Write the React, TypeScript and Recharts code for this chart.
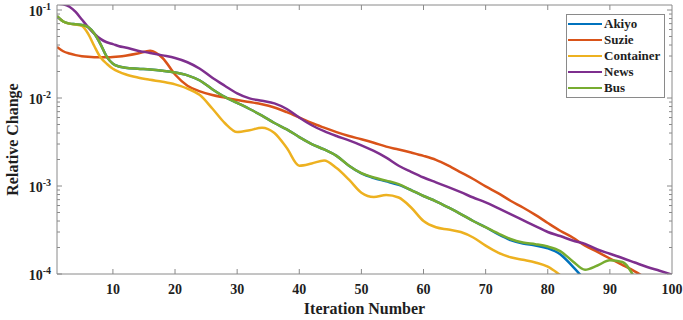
import React from 'react';
import { LineChart, Line, XAxis, YAxis, Legend, Label } from 'recharts';

const iterations = [1, 2, 3, 4, 5, 6, 7, 8, 9, 10, 11, 12, 14, 16, 18, 20, 22, 24, 26, 28, 30, 32, 34, 36, 38, 40, 42, 44, 46, 48, 50, 52, 54, 56, 58, 60, 62, 64, 66, 68, 70, 72, 74, 76, 78, 80, 82, 84, 86, 88, 90, 92, 94, 96, 98, 100];

const akiyo = [0.085, 0.074, 0.07, 0.0688, 0.0675, 0.064, 0.054, 0.041, 0.0295, 0.0245, 0.0228, 0.0221,
  0.0215, 0.0211, 0.0204, 0.0195, 0.0181, 0.0158, 0.0126, 0.0103, 0.0088, 0.0075, 0.0063, 0.0052, 0.0044, 0.0036, 0.003, 0.0026, 0.0022, 0.0017,
  0.00139, 0.00123, 0.00113, 0.00103, 0.0009, 0.00077, 0.00067, 0.00057, 0.00048, 0.0004, 0.00034, 0.000283, 0.000243, 0.000222, 0.000211, 0.000196,
  0.000168, 0.000122, 0.000085, null, null, null, null, null, null, null];

const suzie = [0.038, 0.034, 0.032, 0.0307, 0.0299, 0.0294, 0.0291, 0.029, 0.0291, 0.0293, 0.0297, 0.0303,
  0.032, 0.0345, 0.0285, 0.0185, 0.0138, 0.0119, 0.0108, 0.0101, 0.0095, 0.009, 0.0085, 0.0078, 0.0069, 0.006, 0.0052, 0.0046, 0.0041, 0.0037,
  0.0034, 0.0031, 0.0028, 0.0026, 0.0024, 0.0022, 0.00198, 0.0017, 0.00143, 0.0012, 0.00099, 0.00083, 0.00068, 0.00057, 0.00047, 0.00038,
  0.00031, 0.00026, 0.00021, 0.000178, 0.00015, 0.000127, 0.000107, 0.000088, null, null];

const container = [0.085, 0.074, 0.07, 0.0685, 0.066, 0.054, 0.039, 0.029, 0.0245, 0.0215, 0.0198, 0.0186,
  0.0171, 0.0161, 0.0153, 0.0143, 0.0128, 0.0108, 0.0076, 0.0052, 0.0041, 0.0043, 0.0046, 0.004, 0.0027, 0.0017, 0.0018, 0.00195, 0.0016, 0.00118,
  0.00084, 0.00075, 0.00079, 0.00074, 0.00057, 0.0004, 0.00034, 0.00032, 0.0003, 0.00026, 0.00021, 0.000175, 0.000155, 0.000145, 0.000135, 0.000121,
  0.000097, null, null, null, null, null, null, null, null, null];

const news = [0.118, 0.116, 0.109, 0.095, 0.078, 0.064, 0.054, 0.047, 0.043, 0.041, 0.0388, 0.0375,
  0.0345, 0.0325, 0.0305, 0.0285, 0.0255, 0.0215, 0.017, 0.0138, 0.0113, 0.0099, 0.0093, 0.0087, 0.0075, 0.006, 0.0049, 0.0042, 0.0037, 0.0033,
  0.0029, 0.0025, 0.0021, 0.0017, 0.00145, 0.00125, 0.0011, 0.00097, 0.00085, 0.00074, 0.00065, 0.00056, 0.00048, 0.00041, 0.00035, 0.0003,
  0.00027, 0.00024, 0.00022, 0.00019, 0.00017, 0.000152, 0.000135, 0.00012, 0.000109, 0.0000985];

const bus = [0.085, 0.074, 0.07, 0.0688, 0.0675, 0.064, 0.054, 0.041, 0.0295, 0.0245, 0.0228, 0.0221,
  0.0215, 0.0211, 0.0204, 0.0195, 0.0181, 0.0158, 0.0126, 0.0103, 0.0088, 0.0075, 0.0063, 0.0052, 0.0044, 0.0036, 0.003, 0.0026, 0.0022, 0.0017,
  0.0014, 0.00125, 0.00115, 0.00105, 0.0009, 0.00077, 0.00067, 0.00057, 0.00048, 0.0004, 0.00034, 0.00029, 0.00025, 0.000228, 0.000218, 0.000205,
  0.000182, 0.00014, 0.000112, 0.000125, 0.000143, 0.000137, 0.00009, null, null, null];

const seriesKeys = ['akiyo', 'suzie', 'container', 'news', 'bus'];
const seriesNames = ['Akiyo', 'Suzie', 'Container', 'News', 'Bus'];
const seriesColors = ['#0072BD', '#D95319', '#EDB120', '#7E2F8E', '#77AC30'];

const xTicks = [10, 20, 30, 40, 50, 60, 70, 80, 90, 100];
const xTopTicks = [10, 20, 30, 40, 50, 60, 70, 80, 90];
const yMajorTicks = [1e-4, 1e-3, 1e-2, 1e-1];
const yDomain = [1e-4, 0.114];
const minorMultipliers = [2, 3, 4, 5, 6, 7, 8, 9];
const yMinorTicks = yMajorTicks.flatMap((d) => minorMultipliers.map((m) => d * m)).filter((v) => v < yDomain[1]);
const yAllTicks = [...yMajorTicks, ...yMinorTicks].sort((a, b) => a - b);

const rows = iterations.map((it, i) => ({
  it,
  akiyo: akiyo[i],
  suzie: suzie[i],
  container: container[i],
  news: news[i],
  bus: bus[i],
}));

const AXIS = '#8a8a8a';
const TEXT = '#1e1e1e';
const FONT = '"Liberation Serif", "Times New Roman", serif';

const isMajor = (v: number) => yMajorTicks.some((m) => Math.abs(v - m) / m < 1e-6);

const LeftTick = (props: any) => {
  const { x, y, payload } = props;
  const v = payload.value as number;
  const ax = x + 6;
  const major = isMajor(v);
  const exp = Math.round(Math.log10(v));
  return (
    <g>
      <line x1={ax} x2={ax + (major ? 5 : 3)} y1={y} y2={y} stroke={AXIS} strokeWidth={1} />
      {major && (
        <text x={x} y={y + 6} textAnchor="end" fontFamily={FONT} fontWeight="bold" fontSize={14} fill={TEXT}>
          <tspan>10</tspan>
          <tspan dy={-6} fontSize={10}>{String(exp)}</tspan>
        </text>
      )}
    </g>
  );
};

const RightTick = (props: any) => {
  const { x, y, payload } = props;
  const v = payload.value as number;
  const major = isMajor(v);
  return <line x1={x} x2={x - (major ? 5 : 3)} y1={y} y2={y} stroke={AXIS} strokeWidth={1} />;
};

const BottomTick = (props: any) => {
  const { x, y, payload } = props;
  return (
    <g>
      {payload.value < 100 && <line x1={x} x2={x} y1={y} y2={y - 5} stroke={AXIS} strokeWidth={1} />}
      <text x={x} y={y + 20} textAnchor="middle" fontFamily={FONT} fontWeight="bold" fontSize={14} fill={TEXT}>
        {payload.value}
      </text>
    </g>
  );
};

const TopTick = (props: any) => {
  const { x, y } = props;
  return <line x1={x} x2={x} y1={y} y2={y + 5} stroke={AXIS} strokeWidth={1} />;
};

const renderLegend = () => (
  <div
    style={{
      border: `1px solid ${AXIS}`,
      background: '#fff',
      padding: '1px 1px',
      width: 99,
      boxSizing: 'border-box',
      fontFamily: FONT,
      fontWeight: 'bold',
      fontSize: 13,
      color: TEXT,
    }}
  >
    {seriesNames.map((n, i) => (
      <div key={n} style={{ display: 'flex', alignItems: 'center', height: 16, lineHeight: '16px' }}>
        <span style={{ display: 'inline-block', width: 34, height: 2, background: seriesColors[i], marginRight: 2 }} />
        <span>{n}</span>
      </div>
    ))}
  </div>
);

const XLabel = (props: any) => {
  const vb = props.viewBox;
  return (
    <text x={vb.x + vb.width / 2} y={vb.y + 40} textAnchor="middle" fontFamily={FONT} fontWeight="bold" fontSize={16} fill={TEXT}>
      Iteration Number
    </text>
  );
};

const YLabel = (props: any) => {
  const vb = props.viewBox;
  const cx = vb.x + 18;
  const cy = vb.y + vb.height / 2;
  return (
    <text x={cx} y={cy} transform={`rotate(-90 ${cx} ${cy})`} textAnchor="middle" fontFamily={FONT} fontWeight="bold" fontSize={16} fill={TEXT}>
      Relative Change
    </text>
  );
};

export default function App() {
  return (
    <div style={{ position: 'absolute', left: 0, top: 0, width: 683, height: 320, background: '#fff' }}>
      <LineChart width={683} height={320} data={rows} margin={{ top: 4, right: 10, bottom: 0, left: 0 }}>
        <XAxis
          dataKey="it"
          type="number"
          domain={[1, 100]}
          ticks={xTicks}
          interval={0}
          allowDataOverflow
          height={46}
          tickSize={0}
          tickMargin={0}
          tickLine={false}
          axisLine={{ stroke: AXIS }}
          tick={<BottomTick />}
        >
          <Label content={<XLabel />} />
        </XAxis>
        <XAxis
          xAxisId="top"
          orientation="top"
          dataKey="it"
          type="number"
          domain={[1, 100]}
          ticks={xTopTicks}
          interval={0}
          allowDataOverflow
          height={1}
          tickSize={0}
          tickMargin={0}
          tickLine={false}
          axisLine={{ stroke: AXIS }}
          tick={<TopTick />}
        />
        <YAxis
          type="number"
          scale="log"
          domain={yDomain}
          ticks={yAllTicks}
          interval={0}
          allowDataOverflow
          width={57}
          tickSize={0}
          tickMargin={6}
          tickLine={false}
          axisLine={{ stroke: AXIS }}
          tick={<LeftTick />}
        >
          <Label content={<YLabel />} />
        </YAxis>
        <YAxis
          yAxisId="right"
          orientation="right"
          type="number"
          scale="log"
          domain={yDomain}
          ticks={yAllTicks}
          interval={0}
          allowDataOverflow
          width={1}
          tickSize={0}
          tickMargin={0}
          tickLine={false}
          axisLine={{ stroke: AXIS }}
          tick={<RightTick />}
        />
        <Legend
          layout="vertical"
          align="center"
          verticalAlign="middle"
          wrapperStyle={{ left: 566, top: 14, width: 99 }}
          content={renderLegend}
        />
        <Line
          xAxisId="top"
          yAxisId="right"
          dataKey="news"
          stroke="none"
          dot={false}
          activeDot={false}
          legendType="none"
          isAnimationActive={false}
        />
        {seriesKeys.map((k, i) => (
          <Line
            key={k}
            dataKey={k}
            name={seriesNames[i]}
            type="monotone"
            stroke={seriesColors[i]}
            strokeWidth={2.5}
            dot={false}
            activeDot={false}
            isAnimationActive={false}
            connectNulls={false}
          />
        ))}
      </LineChart>
    </div>
  );
}
